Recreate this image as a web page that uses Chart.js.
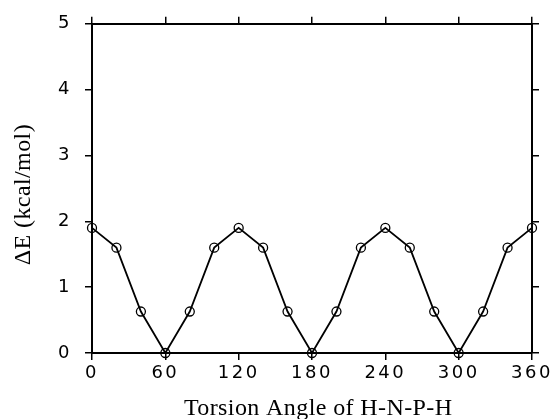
<!DOCTYPE html>
<html><head><meta charset="utf-8">
<script src="https://cdn.jsdelivr.net/npm/chart.js@4"></script>
<style>html,body{margin:0;padding:0;background:#fff}</style>
</head><body>
<canvas id="c" width="553" height="419" style="width:553px;height:419px;display:block"></canvas>
<script>
const angles = [0,20,40,60,80,100,120,140,160,180,200,220,240,260,280,300,320,340,360];
const energies = [1.9,1.6,0.63,0,0.63,1.6,1.9,1.6,0.63,0,0.63,1.6,1.9,1.6,0.63,0,0.63,1.6,1.9];
const xTicks = [0,60,120,180,240,300,360];
const yTicks = [0,1,2,3,4,5];
const xTitle = 'Torsion Angle of H-N-P-H';
const yTitle = 'ΔE (kcal/mol)';

const tickFont = {family:'"DejaVu Sans", "Liberation Sans", Arial, sans-serif', size:18};
const titleFont = {family:'"Liberation Serif", "Times New Roman", serif', size:24, lineHeight:1.0};

function setTicks(arr){ return s => { s.ticks = arr.map(v => ({value:v})); }; }
const grid = {drawOnChartArea:false, drawTicks:true, tickLength:7, color:'#000', lineWidth:1.5};
const border = {display:true, color:'#000', width:2};

const spacingPlugin = {
  id:'spacing',
  beforeDraw(chart){ chart.ctx.letterSpacing = '0.4px'; },
  afterDatasetsDraw(chart){ chart.ctx.letterSpacing = '2.5px'; },
  afterDraw(chart){ chart.ctx.letterSpacing = '0px'; }
};

new Chart(document.getElementById('c'), {
  type:'line',
  data:{datasets:[{
    data: angles.map((a,i)=>({x:a, y:energies[i]})),
    borderColor:'#000', borderWidth:1.8, tension:0,
    pointStyle:'circle', pointRadius:4.5, pointBorderWidth:1.3,
    pointBorderColor:'#000', pointBackgroundColor:'rgba(0,0,0,0)',
    clip:false
  }]},
  plugins:[spacingPlugin],
  options:{
    responsive:false, animation:false,
    layout:{padding:{top:22,right:21,left:0,bottom:0}},
    plugins:{legend:{display:false}, tooltip:{enabled:false}},
    scales:{
      x:{type:'linear', position:'bottom', min:0, max:360,
        afterBuildTicks:setTicks(xTicks),
        grid:grid, border:border,
        ticks:{font:tickFont, color:'#000', padding:3, maxRotation:0, z:1},
        title:{display:true, text:'\u2002' + xTitle, font:titleFont, color:'#000', padding:{top:0,bottom:-2}},
        afterFit:s=>{s.height=66;}
      },
      y:{type:'linear', position:'left', min:0, max:5,
        afterBuildTicks:setTicks(yTicks),
        grid:grid, border:border,
        ticks:{font:tickFont, color:'#000', padding:13, z:1},
        title:{display:true, text:yTitle + '\u2002', font:titleFont, color:'#000', padding:{top:11.5,bottom:0}},
        afterFit:s=>{s.width=92;}
      },
      x2:{type:'linear', position:'top', min:0, max:360,
        afterBuildTicks:setTicks(xTicks),
        grid:grid, border:border, ticks:{display:false},
        afterFit:s=>{s.height=0;}
      },
      y2:{type:'linear', position:'right', min:0, max:5,
        afterBuildTicks:setTicks(yTicks),
        grid:grid, border:border, ticks:{display:false},
        afterFit:s=>{s.width=0;}
      }
    }
  }
});
</script>
</body></html>
